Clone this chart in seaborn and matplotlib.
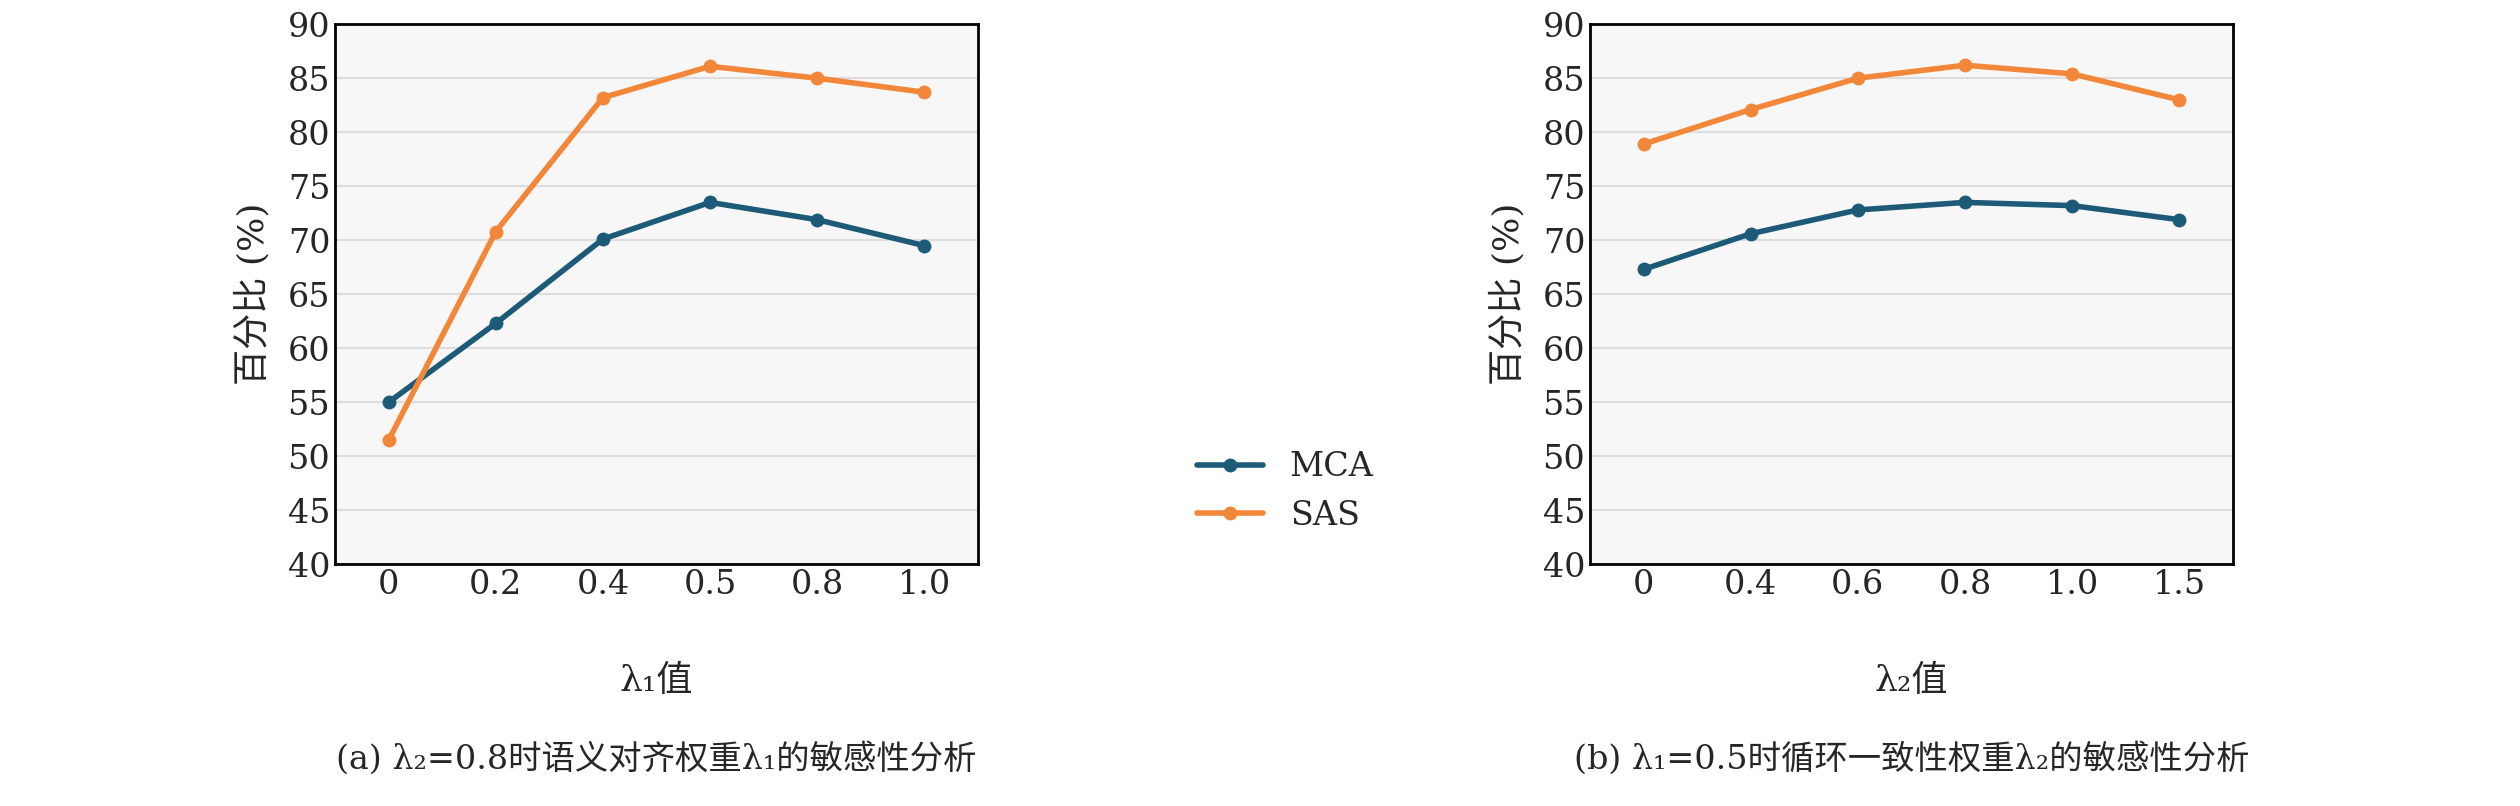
import numpy as np
import pandas as pd
import matplotlib
matplotlib.use("Agg")
import matplotlib.pyplot as plt
import seaborn as sns

x1_labels = ["0", "0.2", "0.4", "0.5", "0.8", "1.0"]
mca1 = [55.0, 62.3, 70.1, 73.5, 71.9, 69.5]
sas1 = [51.5, 70.8, 83.2, 86.1, 85.0, 83.7]
x2_labels = ["0", "0.4", "0.6", "0.8", "1.0", "1.5"]
mca2 = [67.3, 70.6, 72.8, 73.5, 73.2, 71.9]
sas2 = [78.9, 82.1, 85.0, 86.2, 85.4, 83.0]

sns.set_theme(style="whitegrid")
plt.rcParams["font.family"] = ["DejaVu Serif", "Noto Sans CJK SC"]

fig = plt.figure(figsize=(25.2, 8.06), dpi=100)
axes = [fig.add_axes([0.133, 0.30, 0.255, 0.67]),
        fig.add_axes([0.631, 0.30, 0.255, 0.67])]

panels = [(x1_labels, mca1, sas1, "λ₁值",
           "(a) λ₂=0.8时语义对齐权重λ₁的敏感性分析"),
          (x2_labels, mca2, sas2, "λ₂值",
           "(b) λ₁=0.5时循环一致性权重λ₂的敏感性分析")]

for ax, (labels, mca, sas, xl, cap) in zip(axes, panels):
    df = pd.DataFrame({"pos": list(range(len(labels))) * 2,
                       "val": mca + sas,
                       "method": ["MCA"] * len(labels) + ["SAS"] * len(labels)})
    sns.lineplot(data=df, x="pos", y="val", hue="method",
                 palette={"MCA": "#1d5a78", "SAS": "#f2873a"},
                 marker="o", markersize=10, linewidth=4,
                 markeredgecolor="none", ax=ax, legend=(ax is axes[0]))
    ax.set_facecolor("#f7f7f7")
    ax.set_xlim(-0.5, len(labels) - 0.5)
    ax.set_ylim(40, 90)
    ax.set_yticks(range(40, 91, 5))
    ax.set_xticks(range(len(labels)))
    ax.set_xticklabels(labels)
    ax.grid(axis="x", visible=False)
    ax.grid(axis="y", color="#dddddd", lw=1.5)
    for s in ax.spines.values():
        s.set_color("black")
        s.set_linewidth(2)
    ax.tick_params(labelsize=24, length=6, width=1.5, color="black", direction="in")
    ax.set_ylabel("百分比 (%)", fontsize=26, labelpad=12)
    ax.set_xlabel(xl, fontsize=26, labelpad=45)
    ax.text(0.5, -0.36, cap, transform=ax.transAxes, ha="center", va="center",
            fontsize=24)

h, l = axes[0].get_legend_handles_labels()
axes[0].get_legend().remove()
fig.legend(h, l, loc="center", bbox_to_anchor=(0.51, 0.39), fontsize=24,
           frameon=False)
fig.savefig("out.png", dpi=100)
